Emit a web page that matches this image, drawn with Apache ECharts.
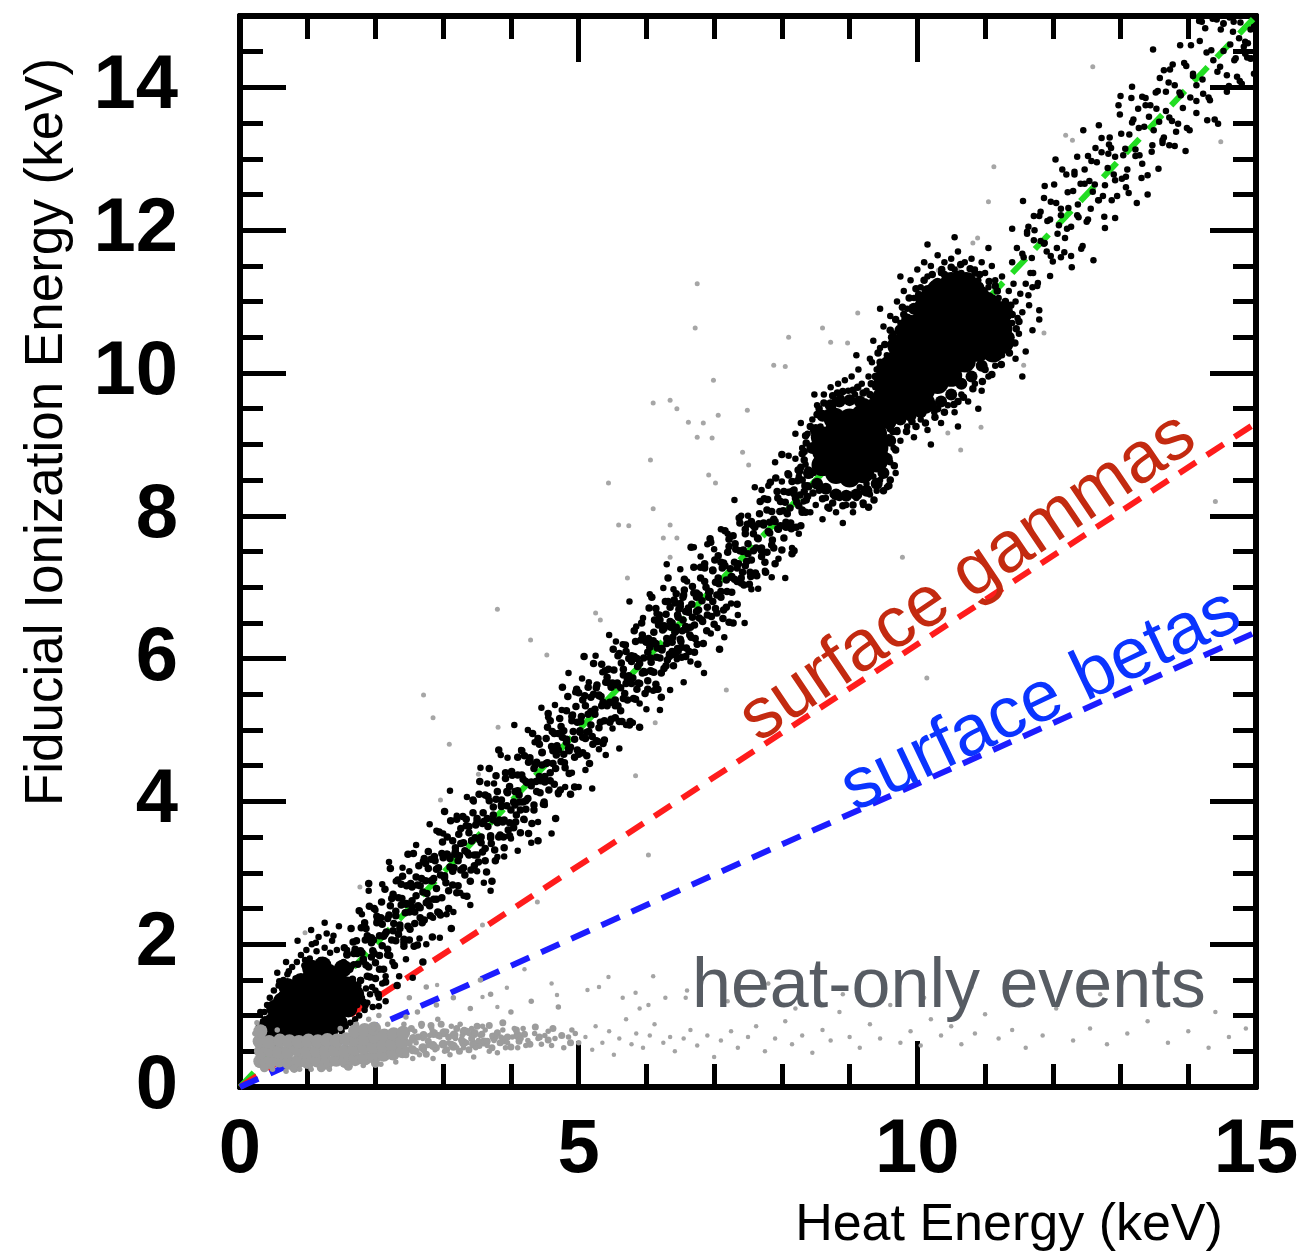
<!DOCTYPE html>
<html>
<head>
<meta charset="utf-8">
<script src="https://cdn.jsdelivr.net/npm/echarts@6/dist/echarts.min.js"></script>
<style>
html,body{margin:0;padding:0;background:#fff;}
#chart{width:1315px;height:1258px;}
</style>
</head>
<body>
<div id="chart"></div>
<script>
// ---------- reference lines (keV) ----------
const unityLine = [[0, 0], [15, 15]];
const gammaLine = [[0, 0], [15, 9.3]];
const betaLine  = [[0, 0], [15, 6.37]];

// ---------- low-energy peak (~1.2 keV) ----------
const lowPeakCore = [[0.48,0.75],[0.49,0.92],[0.62,0.76],[0.61,0.92],[0.63,1.08],[0.62,1.20],[0.76,0.75],[0.77,0.90],[0.75,1.05],[0.76,1.20],[0.78,1.31],[0.90,0.74],[0.91,0.90],[0.89,1.05],[0.90,1.20],[0.92,1.35],[0.90,1.47],[1.04,0.76],[1.05,0.92],[1.03,1.08],[1.04,1.23],[1.06,1.38],[1.04,1.52],[1.18,0.78],[1.17,0.94],[1.19,1.10],[1.18,1.26],[1.16,1.42],[1.18,1.58],[1.32,0.80],[1.33,0.96],[1.31,1.12],[1.32,1.28],[1.34,1.44],[1.31,1.60],[1.46,0.90],[1.45,1.06],[1.47,1.22],[1.46,1.38],[1.44,1.54],[1.60,1.10],[1.61,1.26],[1.59,1.42],[0.40,0.85],[1.22,1.70],[1.52,1.66],[1.70,1.30],[0.36,0.80],[0.52,1.10],[0.70,1.40],[1.05,1.66]];
const lowPeakHalo = [[0.33,0.70],[0.34,0.92],[0.36,1.05],[0.38,0.78],[0.40,1.15],[0.42,0.62],[0.44,1.25],[0.47,0.90],[0.50,1.35],[0.52,0.60],[0.54,1.20],[0.57,1.42],[0.60,0.65],[0.62,1.30],[0.64,1.50],[0.67,0.95],[0.70,1.58],[0.72,0.60],[0.74,1.40],[0.77,1.68],[0.80,0.62],[0.82,1.52],[0.84,1.75],[0.87,1.45],[0.90,1.85],[0.92,0.60],[0.95,1.70],[0.98,1.92],[1.00,0.62],[1.03,1.80],[1.06,2.00],[1.08,1.60],[1.10,0.62],[1.13,1.90],[1.16,2.10],[1.19,1.78],[1.22,0.65],[1.25,1.95],[1.28,2.15],[1.30,0.70],[1.33,1.88],[1.36,2.05],[1.40,0.72],[1.43,1.92],[1.46,2.25],[1.50,0.78],[1.53,1.75],[1.56,0.85],[1.60,1.20],[1.63,0.90],[1.66,1.05],[1.70,0.95],[1.73,1.15],[1.76,1.00],[1.80,1.25],[1.84,1.08],[1.88,1.18],[1.92,1.30],[1.96,1.12],[2.00,1.35],[2.05,1.25],[2.10,1.45],[1.25,2.30],[0.55,1.60],[0.68,1.75],[0.30,1.05],[0.28,0.85],[1.05,2.20],[0.85,2.05],[2.15,1.20],[0.58,1.48],[0.72,1.62],[0.96,1.78],[1.12,2.02],[1.38,2.12],[1.58,1.92],[1.68,1.72],[1.78,1.50],[1.86,1.38],[0.45,1.10],[0.37,0.95]];

// ---------- fiducial band, 1.5 - 8.4 keV ----------
const bandLow = [
[1.50,1.62],[1.52,1.17],[1.54,1.95],[1.56,1.48],[1.58,1.85],[1.60,1.08],[1.62,1.65],[1.64,2.22],[1.66,1.45],[1.68,1.87],[1.70,1.26],[1.72,2.05],[1.74,1.72],[1.76,2.47],[1.78,1.49],[1.80,1.88],[1.82,1.19],[1.84,2.30],[1.86,1.71],[1.88,2.12],[1.90,2.85],[1.92,1.54],[1.94,2.09],[1.96,1.91],[1.98,2.50],[2.00,1.74],[2.02,2.39],[2.04,1.30],[2.06,2.12],[2.08,2.37],[2.10,1.98],[2.12,1.65],[2.14,2.77],[2.16,2.17],[2.18,1.85],[2.20,2.41],[2.22,3.06],[2.24,2.06],[2.26,2.70],[2.28,1.70],[2.30,2.40],[2.32,1.42],[2.34,2.65],[2.36,2.27],[2.38,2.55],[2.40,2.95],[2.42,2.02],[2.44,2.44],[2.46,2.82],[2.48,2.25],
[2.50,2.06],[2.52,2.85],[2.54,2.52],[2.56,3.27],[2.58,2.29],[2.60,2.68],[2.62,1.99],[2.64,3.10],[2.66,2.51],[2.68,2.92],[2.70,1.75],[2.72,2.34],[2.74,2.89],[2.76,2.71],[2.78,3.30],[2.80,2.54],[2.82,3.19],[2.84,2.10],[2.86,2.92],[2.88,3.17],[2.90,2.78],[2.92,2.45],[2.94,3.57],[2.96,2.97],[2.98,2.65],[3.00,3.21],[3.02,3.86],[3.04,2.86],[3.06,3.50],[3.08,2.50],[3.10,3.20],[3.12,2.22],[3.14,3.45],[3.16,3.07],[3.18,3.35],[3.20,3.75],[3.22,2.82],[3.24,3.24],[3.26,3.62],[3.28,3.05],[3.30,3.42],[3.32,2.97],[3.34,3.75],[3.36,3.28],[3.38,3.65],[3.40,2.88],[3.42,3.45],[3.44,4.02],[3.46,3.25],[3.48,3.67],
[3.50,3.76],[3.52,3.15],[3.54,4.28],[3.56,3.50],[3.58,3.29],[3.60,3.72],[3.62,4.09],[3.64,3.01],[3.66,3.65],[3.68,4.01],[3.70,3.49],[3.72,2.88],[3.74,3.92],[3.76,3.32],[3.78,4.36],[3.80,3.70],[3.82,4.72],[3.84,3.53],[3.86,3.95],[3.88,3.71],[3.90,3.35],[3.92,4.32],[3.94,3.94],[3.96,3.60],[3.98,4.21],[4.00,3.88],[4.02,4.37],[4.04,3.63],[4.06,4.14],[4.08,3.81],[4.10,4.62],[4.12,4.09],[4.14,3.56],[4.16,4.37],[4.18,3.99],[4.20,4.64],[4.22,3.89],[4.24,4.26],[4.26,3.55],[4.28,4.57],[4.30,4.22],[4.32,4.95],[4.34,3.88],[4.36,4.51],[4.38,4.14],[4.40,3.45],[4.42,4.80],[4.44,4.29],[4.46,4.51],[4.48,3.96],
[4.50,4.27],[4.52,4.88],[4.54,4.54],[4.56,4.16],[4.58,5.13],[4.60,4.77],[4.62,4.53],[4.64,4.95],[4.66,3.76],[4.68,4.78],[4.70,4.12],[4.72,5.16],[4.74,4.56],[4.76,5.60],[4.78,4.99],[4.80,4.47],[4.82,4.83],[4.84,5.47],[4.86,4.39],[4.88,4.76],[4.90,5.19],[4.92,4.98],[4.94,4.20],[4.96,5.33],[4.98,4.72],[5.00,5.52],[5.02,4.97],[5.04,5.19],[5.06,4.68],[5.08,6.03],[5.10,5.34],[5.12,4.97],[5.14,5.60],[5.16,4.53],[5.18,5.26],[5.20,4.91],[5.22,5.93],[5.24,5.22],[5.26,5.59],[5.28,4.84],[5.30,5.49],[5.32,5.11],[5.34,5.92],[5.36,5.39],[5.38,4.86],[5.40,5.67],[5.42,5.34],[5.44,5.85],[5.46,5.11],[5.48,5.60],
[5.50,5.39],[5.52,5.84],[5.54,5.17],[5.56,5.63],[5.58,5.34],[5.60,6.07],[5.62,5.59],[5.64,5.12],[5.66,5.85],[5.68,5.51],[5.70,6.10],[5.72,5.42],[5.74,5.76],[5.76,5.12],[5.78,6.04],[5.80,5.73],[5.82,6.39],[5.84,5.43],[5.86,6.00],[5.88,5.66],[5.90,5.04],[5.92,6.26],[5.94,5.80],[5.96,6.01],[5.98,5.51],[6.00,6.23],[6.02,5.69],[6.04,6.71],[6.06,6.01],[6.08,5.82],[6.10,6.21],[6.12,6.54],[6.14,5.57],[6.16,6.15],[6.18,6.48],[6.20,6.01],[6.22,5.46],[6.24,6.40],[6.26,5.86],[6.28,6.80],[6.30,6.21],[6.32,7.13],[6.34,6.06],[6.36,6.44],[6.38,6.23],[6.40,5.90],[6.42,6.78],[6.44,6.44],[6.46,6.14],[6.48,6.69],
[6.03,6.28],[6.07,5.95],[6.11,6.37],[6.15,6.02],[6.19,6.61],[6.23,6.12],[6.27,6.45],[6.31,5.98],[6.35,6.72],[6.39,6.30],[6.43,6.05],[6.47,6.58],[6.51,6.24],[6.55,6.89],[6.59,6.41],[6.63,6.10],[6.67,6.76],[6.71,6.47],[6.75,6.20],[6.14,6.70],[6.29,6.62],[6.44,6.91],[6.58,6.66],[6.22,5.80],[6.52,6.02],
[6.50,6.73],[6.52,6.16],[6.54,6.54],[6.56,6.96],[6.58,6.03],[6.60,6.43],[6.62,6.71],[6.64,6.33],[6.66,7.56],[6.68,6.58],[6.70,7.28],[6.72,6.28],[6.74,6.92],[6.76,5.92],[6.78,6.57],[6.80,7.13],[6.82,6.81],[6.84,6.21],[6.86,7.33],[6.88,7.00],[6.90,6.61],[6.92,6.86],[6.94,7.68],[6.96,6.59],[6.98,7.24],[7.00,6.48],[7.02,7.07],[7.04,6.89],[7.06,7.44],[7.08,6.13],[7.10,6.86],[7.12,7.27],[7.14,6.68],[7.16,7.79],[7.18,7.10],[7.20,7.49],[7.22,6.51],[7.24,7.26],[7.26,6.93],[7.28,7.72],[7.30,7.11],[7.32,7.53],[7.34,6.76],[7.36,7.33],[7.38,7.90],[7.40,7.13],[7.42,7.50],[7.44,7.03],[7.46,7.81],[7.48,7.36],
[7.50,7.61],[7.53,7.21],[7.55,7.92],[7.58,7.51],[7.60,7.84],[7.63,7.16],[7.65,7.68],[7.68,8.20],[7.70,7.51],[7.73,7.90],[7.75,7.35],[7.78,8.08],[7.80,7.78],[7.83,8.47],[7.85,7.59],[7.88,7.95],[7.90,7.33],[7.93,8.34],[7.95,7.81],[7.98,8.20],[8.00,8.86],[8.03,7.69],[8.05,8.19],[8.08,8.03],[8.10,8.57],[8.13,7.90],[8.15,8.48],[8.18,7.51],[8.20,8.25],[8.23,8.49],[8.25,8.14],[8.28,7.86],[8.30,8.87],[8.33,8.34],[8.35,8.05],[8.38,8.57]
];
const bandMid = [
[1.55,1.38],[1.58,1.86],[1.61,1.20],[1.64,1.69],[1.67,2.03],[1.70,1.43],[1.73,1.87],[1.76,1.21],[1.79,2.23],[1.82,1.76],[1.85,2.06],[1.88,1.55],[1.91,2.53],[1.94,1.82],[1.97,2.06],[2.00,1.52],[2.03,2.34],[2.06,1.84],[2.09,2.59],[2.12,2.11],[2.15,1.47],[2.18,2.36],[2.21,1.84],[2.24,2.64],[2.27,2.29],[2.30,2.05],[2.33,2.90],[2.36,2.22],[2.39,2.64],[2.42,1.97],[2.45,2.56],[2.48,3.26],[2.51,2.21],[2.54,2.61],[2.57,1.97],[2.60,2.94],[2.63,2.54],[2.66,2.82],[2.69,2.30],[2.72,3.20],
[2.75,2.58],[2.78,3.06],[2.81,2.40],[2.84,2.89],[2.87,3.23],[2.90,2.63],[2.93,3.07],[2.96,2.41],[2.99,3.43],[3.02,2.96],[3.05,3.26],[3.08,2.75],[3.11,3.73],[3.14,3.02],[3.17,3.26],[3.20,2.72],[3.23,3.54],[3.26,3.04],[3.29,3.79],[3.32,3.31],[3.35,2.67],[3.38,3.56],[3.41,3.04],[3.44,3.84],[3.47,3.49],[3.50,3.25],[3.53,4.10],[3.56,3.42],[3.59,3.84],[3.62,3.17],[3.65,3.76],[3.68,4.46],[3.71,3.41],[3.74,3.81],[3.77,3.17],[3.80,4.14],[3.83,3.74],[3.86,4.02],[3.89,3.50],[3.92,4.40],
[3.95,4.12],[3.98,3.70],[4.01,4.42],[4.04,3.99],[4.07,3.71],[4.10,4.37],[4.13,3.99],[4.16,4.71],[4.19,3.75],[4.22,4.28],[4.25,4.04],[4.28,4.61],[4.31,3.69],[4.34,4.46],[4.37,4.28],[4.40,4.88],[4.43,4.12],[4.46,4.68],[4.49,3.99],[4.52,4.53],[4.55,5.23],[4.58,4.40],[4.61,4.98],[4.64,4.24],[4.67,4.65],[4.70,4.95],[4.73,4.16],[4.76,4.90],[4.79,4.54],[4.82,5.27],[4.85,4.74],[4.88,4.10],[4.91,5.21],[4.94,4.87],[4.97,5.57],[5.00,4.66],[5.03,5.12],[5.06,4.90],[5.09,5.48],[5.12,4.64],
[5.15,4.98],[5.18,5.46],[5.21,4.80],[5.24,5.29],[5.27,5.63],[5.30,5.03],[5.33,5.47],[5.36,4.81],[5.39,5.83],[5.42,5.36],[5.45,5.66],[5.48,5.15],[5.51,6.13],[5.54,5.42],[5.57,5.66],[5.60,5.12],[5.63,5.94],[5.66,5.44],[5.69,6.19],[5.72,5.71],[5.75,5.07],[5.78,5.96],[5.81,5.44],[5.84,6.24],[5.87,5.89],[5.90,5.65],[5.93,6.50],[5.96,5.82],[5.99,6.24],[6.02,5.57],[6.05,6.16],[6.08,6.86],[6.11,5.81],[6.14,6.21],[6.17,5.57],[6.20,6.54],[6.23,6.14],[6.26,6.42],[6.29,5.90],[6.32,6.80],
[6.35,6.52],[6.38,6.10],[6.41,6.82],[6.44,6.39],[6.47,6.11],[6.50,6.77],[6.53,6.39],[6.56,7.11],[6.59,6.15],[6.62,6.68],[6.65,6.44],[6.68,7.01],[6.71,6.09],[6.74,6.86],[6.77,6.68],[6.80,7.28],[6.83,6.52],[6.86,7.08],[6.89,6.39],[6.92,6.93],[6.95,7.63],[6.98,6.80],[7.01,7.38],[7.04,6.64],[7.07,7.05],[7.10,7.35],[7.13,6.56],[7.16,7.30],[7.19,6.94],[7.22,7.67],[7.25,7.14],[7.28,6.50],[7.31,7.61],[7.34,7.27],[7.37,7.97],[7.40,7.06],[7.43,7.52],[7.46,7.30],[7.49,7.88],[7.52,7.04],
[7.55,7.38],[7.58,7.86],[7.61,7.20],[7.64,7.69],[7.67,8.03],[7.70,7.43],[7.73,7.87],[7.76,7.21],[7.79,8.23],[7.82,7.76],[7.85,8.06],[7.88,7.55],[7.91,8.53],[7.94,7.82],[7.97,8.06],[8.00,7.52],[8.03,8.34],[8.06,7.84],[8.09,8.59],[8.12,8.11],[8.15,7.47],[8.18,8.36],[8.21,7.84],[8.24,8.64],[8.27,8.29],[8.30,8.05],[8.33,8.90],[8.36,8.22],[8.39,8.64]
];
const bandCore = [
[1.62,1.67],[1.66,1.51],[1.70,1.93],[1.74,1.42],[1.78,1.91],[1.82,1.79],[1.86,2.22],[1.90,1.68],[1.94,2.02],[1.98,1.87],[2.02,2.30],[2.06,1.65],[2.10,2.28],[2.14,2.14],[2.18,1.93],[2.22,2.54],[2.26,2.19],[2.30,2.46],[2.34,2.14],[2.38,2.84],[2.42,2.07],[2.46,2.57],[2.50,2.45],[2.54,2.80],[2.58,2.45],[2.62,2.83],[2.66,2.37],[2.70,2.73],[2.74,3.13],[2.78,2.61],[2.82,2.89],[2.86,2.63],[2.90,3.05],[2.94,2.44],[2.98,3.27],[3.02,2.93],[3.06,3.26],[3.10,3.08],[3.14,2.83],[3.18,3.30],
[3.22,3.17],[3.26,3.41],[3.30,3.07],[3.34,3.66],[3.38,3.25],[3.42,3.45],[3.46,3.10],[3.50,3.72],[3.54,3.46],[3.58,3.69],[3.62,3.34],[3.66,4.07],[3.70,3.52],[3.74,3.74],[3.78,4.03],[3.82,3.50],[3.86,3.93],[3.90,3.74],[3.94,4.14],[3.98,3.52],[4.02,4.37],[4.06,3.95],[4.10,4.15],[4.14,3.88],[4.18,4.31],[4.22,4.01],[4.26,4.55],[4.30,4.27],[4.34,3.95],[4.38,4.55],[4.42,4.35],[4.46,4.69],[4.50,4.35],[4.54,5.04],[4.58,4.29],[4.62,4.71],[4.66,4.46],[4.70,4.72],[4.74,5.05],[4.78,4.66],
[4.82,4.87],[4.86,4.71],[4.90,5.13],[4.94,4.62],[4.98,5.11],[5.02,4.99],[5.06,5.42],[5.10,4.88],[5.14,5.22],[5.18,5.07],[5.22,5.50],[5.26,4.85],[5.30,5.48],[5.34,5.34],[5.38,5.13],[5.42,5.74],[5.46,5.39],[5.50,5.66],[5.54,5.34],[5.58,6.04],[5.62,5.27],[5.66,5.77],[5.70,5.65],[5.74,6.00],[5.78,5.65],[5.82,6.03],[5.86,5.57],[5.90,5.93],[5.94,6.33],[5.98,5.81],[6.02,6.09],[6.06,5.83],[6.10,6.25],[6.14,5.64],[6.18,6.47],[6.22,6.13],[6.26,6.46],[6.30,6.28],[6.34,6.03],[6.38,6.50],
[6.42,6.37],[6.46,6.61],[6.50,6.27],[6.54,6.86],[6.58,6.45],[6.62,6.65],[6.66,6.30],[6.70,6.92],[6.74,6.66],[6.78,6.89],[6.82,6.54],[6.86,7.27],[6.90,6.72],[6.94,6.94],[6.98,7.23],[7.02,6.70],[7.06,7.13],[7.10,6.94],[7.14,7.34],[7.18,6.72],[7.22,7.57],[7.26,7.15],[7.30,7.35],[7.34,7.08],[7.38,7.51],[7.42,7.21],[7.46,7.75],[7.50,7.47],[7.54,7.15],[7.58,7.75],[7.62,7.55],[7.66,7.89],[7.70,7.55],[7.74,8.24],[7.78,7.49],[7.82,7.91],[7.86,7.66],[7.90,7.92],[7.94,8.25],[7.98,7.86],
[8.02,8.07],[8.06,7.91],[8.10,8.33],[8.14,7.82],[8.18,8.31],[8.22,8.19],[8.26,8.62],[8.30,8.08],[8.34,8.42],[8.38,8.27]
];
const bandWide = [[1.80,2.42],[1.85,1.14],[1.90,2.75],[1.95,1.40],[2.00,2.48],[2.05,1.13],[2.10,2.84],[2.15,1.55],[2.20,3.15],[2.25,1.75],[2.30,2.88],[2.35,1.55],[2.40,3.07],[2.45,1.79],[2.50,3.02],[2.55,1.53],[2.60,3.39],[2.65,2.08],[2.70,3.16],[2.75,2.00],[2.80,3.68],[2.85,2.37],[2.90,3.59],[2.95,2.09],[3.00,3.55],[3.05,2.42],[3.10,4.15],[3.15,2.45],[3.20,3.80],[3.25,2.72],
[3.30,2.68],[3.35,4.06],[3.40,2.55],[3.45,4.00],[3.50,3.02],[3.55,4.47],[3.60,2.86],[3.65,4.25],[3.70,2.75],[3.75,4.25],[3.80,3.22],[3.85,4.65],[3.90,3.23],[3.95,4.61],[4.00,3.48],[4.05,5.07],[4.10,3.31],[4.15,4.72],[4.20,3.74],[4.25,5.00],[4.30,3.42],[4.35,4.83],[4.40,3.71],[4.45,5.31],[4.50,3.95],[4.55,5.18],[4.60,3.55],[4.65,5.35],[4.70,4.10],[4.75,5.28],
[4.80,4.20],[4.85,5.80],[4.90,4.40],[4.95,5.53],[5.00,4.20],[5.05,5.72],[5.10,4.44],[5.15,5.67],[5.20,4.18],[5.25,6.04],[5.30,4.73],[5.35,5.81],[5.40,4.65],[5.45,6.33],[5.50,5.02],[5.55,6.24],[5.60,4.74],[5.65,6.20],[5.70,5.07],[5.75,6.80],[5.80,5.10],[5.85,6.45],[5.90,5.37],[5.95,6.57],[6.00,5.29],[6.05,6.90],[6.10,5.55],[6.15,6.63],[6.20,5.28],[6.25,6.99],
[6.30,7.32],[6.35,5.56],[6.40,6.97],[6.45,5.99],[6.50,7.25],[6.55,5.67],[6.60,7.08],[6.65,5.96],[6.70,7.56],[6.75,6.20],[6.80,7.43],[6.85,5.80],[6.90,7.60],[6.95,6.35],[7.00,7.53],[7.05,6.43],[7.10,7.81],[7.15,6.30],[7.20,7.75],[7.25,6.77],[7.30,8.22],[7.35,6.61],[7.40,8.00],[7.45,6.50],[7.50,8.00],[7.55,6.97],[7.60,8.40],[7.65,6.98],[7.70,8.36],[7.75,7.23],
[7.80,8.42],[7.85,7.14],[7.90,8.75],[7.95,7.40],[8.00,8.48],[8.05,7.13],[8.10,8.84],[8.15,7.55],[8.20,9.15],[8.25,7.75]];

// ---------- 8.98 keV peak ----------
const peak9Core = [[8.60,8.71],[8.61,8.90],[8.59,9.10],[8.80,8.60],[8.79,8.80],[8.81,9.00],[8.80,9.20],[8.78,9.36],[9.00,8.55],[9.01,8.75],[8.99,8.95],[9.02,9.15],[9.00,9.35],[9.20,8.61],[9.19,8.80],[9.21,9.00],[9.20,9.20],[9.18,9.40],[9.40,8.76],[9.41,8.95],[9.39,9.15],[9.40,9.35],[9.45,9.55],[9.60,9.45]];
const peak9Edge = [[8.40,8.60],[8.45,8.95],[8.50,9.20],[8.60,9.40],[8.72,9.55],[8.85,9.60],[9.00,9.62],[9.15,9.60],[9.30,9.55],[9.45,9.45],[9.55,9.30],[9.60,9.05],[9.55,8.80],[9.50,8.60],[9.40,8.45],[9.25,8.35],[9.10,8.30],[8.95,8.28],[8.80,8.30],[8.65,8.38],[8.52,8.45]];
const peak9Ring = [[8.30,8.50],[8.33,8.78],[8.36,9.02],[8.42,9.25],[8.52,9.42],[8.62,9.58],[8.75,9.68],[8.90,9.74],[9.05,9.76],[9.20,9.72],[9.35,9.66],[9.50,9.62],[9.64,9.18],[9.68,8.92],[9.66,8.70],[9.60,8.50],[9.50,8.35],[9.36,8.22],[9.20,8.18],[9.05,8.15],[8.90,8.14],[8.75,8.18],[8.60,8.24],[8.46,8.32],[8.38,8.42],[8.28,8.68],[8.35,9.12],[8.55,9.50],[8.82,9.72],[9.12,9.80],[9.58,8.42],[9.28,8.12],[8.68,8.12]];
const peak9Halo = [[8.25,8.55],[8.30,8.95],[8.32,8.20],[8.35,8.72],[8.38,9.15],[8.40,8.40],[8.42,8.05],[8.45,9.35],[8.47,8.60],[8.50,8.15],[8.52,9.55],[8.55,8.35],[8.57,9.25],[8.60,7.95],[8.62,9.70],[8.65,8.25],[8.68,9.45],[8.70,8.10],[8.72,9.80],[8.75,8.30],[8.78,9.60],[8.80,8.05],[8.83,9.85],[8.85,8.25],[8.88,9.65],[8.90,7.90],[8.93,9.90],[8.95,8.15],[8.98,9.75],[9.00,8.30],[9.03,9.95],[9.05,8.05],[9.08,9.70],[9.10,8.25],[9.13,10.05],[9.15,8.40],[9.18,9.85],[9.20,8.15],[9.23,9.60],[9.25,8.45],[9.28,9.95],[9.30,8.30],[9.33,10.15],[9.35,8.55],[9.38,9.80],[9.40,8.35],[9.43,8.70],[9.45,8.50],[9.48,9.05],[9.50,8.60],[9.53,8.85],[9.55,8.40],[9.58,9.10],[9.60,8.75],[9.62,9.35],[9.65,8.95],[9.68,8.60],[9.70,9.20],[8.20,8.80],[8.15,8.35],[8.48,9.70],[8.28,9.30]];

// ---------- 10.37 keV peak ----------
const peak10Core = [[9.50,9.66],[9.52,9.86],[9.70,9.62],[9.71,9.81],[9.69,10.01],[9.72,10.20],[9.90,9.71],[9.89,9.92],[9.91,10.10],[9.90,10.31],[9.92,10.50],[10.10,9.76],[10.11,9.95],[10.09,10.16],[10.12,10.36],[10.10,10.55],[10.08,10.74],[10.30,9.86],[10.29,10.05],[10.31,10.26],[10.30,10.45],[10.32,10.66],[10.29,10.85],[10.31,11.00],[10.50,9.96],[10.51,10.15],[10.49,10.36],[10.52,10.55],[10.50,10.76],[10.48,10.95],[10.51,11.10],[10.70,10.16],[10.71,10.35],[10.69,10.56],[10.72,10.75],[10.70,10.95],[10.68,11.10],[10.90,10.31],[10.91,10.50],[10.89,10.71],[10.92,10.90],[11.10,10.50],[11.08,10.71],[9.35,9.45],[11.25,10.85],[11.24,10.62],[10.50,11.26],[10.72,11.26],[10.30,11.16],[9.55,10.05],[9.72,10.38],[11.08,10.95],[10.90,11.08],[11.12,10.30],[9.60,9.46],[9.85,9.52],[10.10,9.58],[11.26,10.42],[10.12,10.93],[9.92,10.66]];
const peak10Edge = [[9.35,9.55],[9.45,9.90],[9.55,10.15],[9.65,10.40],[9.75,10.60],[9.85,10.75],[9.95,10.90],[10.05,11.05],[10.15,11.15],[10.30,11.25],[10.45,11.30],[10.60,11.35],[10.75,11.30],[10.90,11.20],[11.05,11.05],[11.20,10.90],[11.30,10.70],[11.35,10.50],[11.25,10.40],[11.10,10.25],[10.95,10.10],[10.80,9.95],[10.65,9.85],[10.50,9.70],[10.35,9.60],[10.20,9.55],[10.05,9.45],[9.90,9.40],[9.75,9.35],[9.60,9.30],[9.50,9.45]];
const peak10Ring = [[9.25,9.45],[9.30,9.70],[9.38,9.95],[9.45,10.15],[9.52,10.40],[9.60,10.60],[9.68,10.75],[9.78,10.92],[9.88,11.05],[9.98,11.18],[10.10,11.30],[10.22,11.38],[10.36,11.45],[10.50,11.48],[10.64,11.52],[10.78,11.46],[10.92,11.38],[11.06,11.28],[11.18,11.15],[11.30,11.00],[11.40,10.82],[11.46,10.62],[11.44,10.42],[11.36,10.28],[11.24,10.12],[11.10,9.98],[10.96,9.88],[10.82,9.78],[10.68,9.66],[10.54,9.56],[10.40,9.45],[10.26,9.38],[10.12,9.30],[9.98,9.25],[9.84,9.18],[9.70,9.18],[9.40,9.25],[9.32,9.85],[9.42,10.28],[9.62,10.50],[9.80,10.82],[10.02,11.10],[10.40,11.38],[10.85,11.40],[11.15,11.22],[11.38,10.95],[11.50,10.72],[11.30,10.35],[11.00,10.05],[10.60,9.60],[10.30,9.50],[9.92,9.32],[9.60,9.22]];
const peak10Halo = [[9.20,9.30],[9.25,9.75],[9.30,10.20],[9.35,10.45],[9.40,10.05],[9.45,10.35],[9.50,10.65],[9.55,10.25],[9.60,10.80],[9.65,10.55],[9.70,11.00],[9.75,10.70],[9.80,11.15],[9.85,10.90],[9.90,11.30],[9.95,11.05],[10.00,11.45],[10.05,11.20],[10.10,11.55],[10.15,11.35],[10.20,11.50],[10.25,11.25],[10.30,11.65],[10.35,11.40],[10.40,11.55],[10.45,11.30],[10.50,11.60],[10.55,11.45],[10.60,11.70],[10.65,11.40],[10.70,11.55],[10.75,11.35],[10.80,11.60],[10.85,11.45],[10.90,11.30],[10.95,11.55],[11.00,11.40],[11.05,11.20],[11.10,11.50],[11.15,11.30],[11.20,11.05],[11.25,11.35],[11.30,10.90],[11.35,11.15],[11.40,10.70],[11.45,11.00],[11.50,10.55],[11.55,10.85],[11.35,10.40],[11.25,10.25],[11.15,10.10],[11.05,9.95],[10.95,9.75],[10.85,9.85],[10.75,9.60],[10.65,9.70],[10.55,9.45],[10.45,9.55],[10.35,9.30],[10.25,9.45],[10.15,9.20],[10.05,9.35],[9.95,9.10],[9.85,9.25],[9.75,9.05],[9.65,9.45],[9.58,9.60],[9.52,9.40],[11.60,10.30],[11.65,10.95],[11.45,10.20],[11.70,10.60],[10.90,9.50],[10.60,9.25],[10.20,9.00],[11.55,9.95],[9.15,9.55],[9.10,10.25],[9.45,10.90],[9.75,11.35],[10.15,11.80],[10.55,11.90],[11.05,11.75],[11.40,11.55],[11.70,11.20],[11.80,10.75]];

// ---------- fiducial band, 11.4 - 15 keV ----------
const bandHigh = [[11.55,11.67],[11.60,11.25],[11.64,12.05],[11.69,11.61],[11.73,12.00],[11.78,11.26],[11.82,11.85],[11.87,12.45],[11.91,11.70],[11.96,12.15],[12.00,11.56],[12.05,12.38],[12.09,12.07],[12.14,12.85],[12.18,11.89],[12.23,12.31],[12.27,11.64],[12.32,12.78],[12.36,12.21],[12.41,12.65],[12.45,13.40],[12.50,12.12],[12.54,12.69],[12.59,12.54],[12.63,13.15],[12.68,12.42],[12.72,13.09],[12.77,12.03],[12.81,12.87],[12.86,13.15],[12.90,12.78],[12.95,12.48],[12.99,13.62],[13.04,13.05],[13.08,12.75],[13.13,13.34],[13.17,14.01],[13.22,13.04],[13.26,13.70],[13.31,12.73],[13.35,13.45],[13.40,12.50],[13.44,13.75],[13.49,13.40],[13.53,13.70],[13.58,14.13],[13.62,13.22],[13.67,13.67],[13.71,14.07],[13.76,13.53],
[13.80,14.03],[13.85,13.49],[13.89,13.89],[13.94,14.34],[13.98,13.43],[14.03,13.86],[14.07,14.16],[14.12,13.81],[14.16,14.93],[14.21,14.11],[14.25,14.83],[14.30,13.86],[14.34,14.52],[14.39,13.55],[14.43,14.22],[14.48,14.81],[14.52,14.51],[14.57,13.94],[14.61,14.98],[14.66,14.78],[14.70,14.41],[14.75,14.69],[14.79,14.05],[14.84,14.47],[14.88,14.62],[14.93,14.41],[14.97,14.85],
[11.62,11.95],[11.71,11.40],[11.80,12.20],[11.88,11.82],[11.97,12.40],[12.06,11.75],[12.12,12.30],[12.21,12.02],[12.30,12.55],[12.38,12.18],[12.47,12.85],[12.56,12.30],[12.65,12.95],[12.74,12.48],[12.83,13.20],[12.92,12.70],[13.01,13.35],[13.10,12.85],[13.19,13.55],[13.28,13.05],[13.37,13.75],[13.46,13.10],[13.55,13.95],[13.64,13.30],[13.73,14.25],
[11.42,11.25],[11.47,11.75],[11.52,11.11],[11.57,11.62],[11.62,11.98],[11.67,11.40],[11.72,11.86],[11.77,11.22],[11.82,12.26],[11.87,11.81],[11.92,12.13],[11.97,11.64],[12.02,12.64],[12.07,11.95],[12.12,12.21],[12.17,11.69],[12.22,12.53],[12.27,12.05],[12.32,12.82],[12.37,12.36],[12.42,11.74],[12.47,12.65],[12.52,12.15],[12.57,12.97],[12.62,12.64],[12.67,12.42],[12.72,13.29],[12.77,12.63],[12.82,13.07],[12.87,12.42],[12.92,13.03],[12.97,13.75],[13.02,12.72],[13.07,13.14],[13.12,12.52],[13.17,13.51],[13.22,13.13],[13.27,13.43],[13.32,12.93],[13.37,13.85],
[13.42,13.59],[13.47,13.19],[13.52,13.93],[13.57,13.52],[13.62,13.26],[13.67,13.94],[13.72,13.58],[13.77,14.32],[13.82,13.38],[13.87,13.93],[13.92,13.71],[13.97,14.30],[14.02,13.40],[14.07,14.19],[14.12,14.03],[14.17,14.65],[14.22,13.91],[14.27,14.49],[14.32,13.82],[14.37,14.38],[14.42,14.95],[14.47,14.29],[14.52,14.89],[14.57,14.17],[14.62,14.60],[14.67,14.92],[14.72,14.15],[14.77,14.91],[14.82,14.57],[14.87,14.42],[14.92,14.81],[14.97,14.19],
[11.40,12.02],[11.48,10.77],[11.56,12.41],[11.64,11.09],[11.72,12.20],[11.80,10.88],[11.88,12.62],[11.96,11.36],[12.04,12.99],[12.12,11.62],[12.20,12.78],[12.28,11.48],[12.36,13.03],[12.44,11.78],[12.52,13.04],[12.60,11.58],[12.68,13.47],[12.76,12.19],[12.84,13.30],[12.92,12.17],[13.00,13.88],[13.08,12.60],[13.16,13.85],[13.24,12.38],[13.32,13.87],[13.40,12.77],[13.48,14.53],[13.56,12.86],[13.64,14.24],[13.72,13.19],[13.80,13.18],[13.88,14.59],[13.96,13.11],[14.04,14.59],[14.12,13.64],[14.20,14.92],[14.28,13.54],[14.36,14.96],[14.44,13.49],[14.52,14.90],[14.60,14.02],[14.68,14.38],[14.76,14.09],[14.84,14.64],[14.92,14.40]];

// ---------- heat-only events ----------
const heatOnlyCore = [[0.30,0.36],[0.31,0.50],[0.29,0.64],[0.30,0.78],[0.44,0.35],[0.45,0.51],[0.43,0.63],[0.58,0.37],[0.57,0.49],[0.59,0.65],[0.72,0.34],[0.71,0.50],[0.73,0.64],[0.86,0.36],[0.85,0.52],[0.87,0.63],[1.00,0.35],[0.99,0.49],[1.01,0.65],[1.14,0.37],[1.13,0.51],[1.15,0.64],[1.28,0.34],[1.27,0.50],[1.29,0.66],[1.42,0.38],[1.41,0.52],[1.43,0.65],[1.56,0.36],[1.55,0.50],[1.57,0.67],[1.70,0.39],[1.69,0.53],[1.71,0.66],[1.70,0.78],[1.84,0.40],[1.83,0.55],[1.85,0.68],[1.84,0.80],[1.98,0.42],[1.97,0.56],[1.99,0.70],[1.98,0.82],[2.12,0.45],[2.11,0.58],[2.13,0.72],[2.26,0.47],[2.25,0.60],[2.27,0.74],[2.40,0.50],[2.39,0.63],[2.41,0.76]];
const heatOnlyMid = [[2.55,0.52],[2.56,0.68],[2.70,0.55],[2.71,0.72],[2.85,0.58],[2.86,0.75],[3.00,0.60],[3.01,0.76],[3.15,0.57],[3.16,0.73],[3.30,0.62],[3.31,0.78],[3.45,0.60],[3.46,0.75],[3.60,0.63],[3.75,0.70],[3.90,0.66],[4.10,0.72],[0.36,0.27],[0.80,0.26],[1.20,0.27],[1.60,0.29],[2.00,0.33]];
const heatOnlyPts = [[0.22,0.75],[0.25,0.90],[0.27,0.35],[0.35,0.82],[0.48,0.25],[0.55,0.80],[0.68,0.22],[0.88,0.25],[1.05,0.25],[1.32,0.25],[1.48,0.82],[1.58,0.28],[1.72,0.88],[1.82,0.30],[1.98,0.82],[2.08,0.32],[2.18,0.88],[2.30,0.35],[2.42,0.88],[2.55,0.40],[2.60,0.62],[2.68,0.85],[2.72,0.50],[2.80,0.72],[2.85,0.40],[2.92,0.95],[2.98,0.60],[3.05,0.78],[3.10,0.45],[3.18,0.68],[3.25,0.88],[3.30,0.55],[3.38,0.75],[3.45,0.42],[3.52,0.65],[3.58,0.85],[3.65,0.58],[3.72,0.72],[3.80,0.48],[3.88,0.80],[3.95,0.62],[4.02,0.70],[4.10,0.55],[4.18,0.82],[4.25,0.65],[4.35,0.75],[4.45,0.60],[4.55,0.78],[4.65,0.68],[4.78,0.55],[4.90,0.80],[5.00,0.62],[2.62,1.05],[2.90,1.15],[3.15,1.25],[3.40,1.10],[3.70,1.30],[4.00,1.05],[4.30,1.20],[2.50,1.25],[2.75,1.40],[3.55,1.50],[4.70,1.12],[2.45,0.98],[2.05,1.00],[1.90,0.95],
[2.52,0.55],[2.58,0.78],[2.65,0.45],[2.70,0.68],[2.78,0.58],[2.83,0.82],[2.88,0.52],[2.95,0.70],[3.02,0.50],[3.08,0.62],[3.12,0.85],[3.20,0.55],[3.28,0.72],[3.35,0.62],[3.42,0.82],[3.48,0.55],[3.55,0.72],[3.62,0.80],[3.68,0.50],[3.75,0.65],[3.85,0.70],[3.92,0.55],[4.05,0.82],[4.15,0.68],[4.22,0.58],[4.40,0.68],[4.50,0.72],[4.60,0.58],[4.85,0.70],[4.95,0.75]];
const heatOnlyMore = [[2.45,0.45],[2.50,0.62],[2.53,0.82],[2.60,0.50],[2.63,0.70],[2.68,0.88],[2.75,0.46],[2.78,0.64],[2.82,0.86],[2.90,0.55],[2.93,0.72],[2.97,0.88],[3.05,0.52],[3.08,0.70],[3.12,0.60],[3.20,0.82],[3.24,0.50],[3.27,0.66],[3.35,0.78],[3.38,0.52],[3.42,0.68],[3.50,0.85],[3.53,0.58],[3.57,0.74],[3.65,0.64],[3.68,0.86],[3.72,0.55],[3.80,0.76],[3.84,0.62],[3.88,0.90],[3.95,0.70],[4.00,0.56],[4.08,0.80],[4.12,0.64],[4.20,0.74],[4.28,0.60],[4.36,0.84],[4.42,0.70],[4.55,0.66],[4.62,0.82],[4.75,0.72],[4.88,0.62]];
const heatOnlySparse = [[5.10,0.70],[5.20,0.52],[5.25,0.85],[5.35,0.62],[5.45,0.78],[5.52,0.45],[5.60,0.68],[5.70,0.95],[5.78,0.60],[5.85,0.75],[5.95,0.55],[6.05,0.72],[6.12,0.88],[6.25,0.62],[6.35,0.70],[6.42,0.50],[6.55,0.68],[6.65,0.80],[6.75,0.58],[6.90,0.72],[7.00,0.42],[7.10,0.65],[7.25,0.78],[7.35,0.55],[7.50,0.70],[7.62,0.85],[7.75,0.50],[7.90,0.68],[8.05,0.92],[8.15,0.60],[8.30,0.72],[8.45,0.48],[8.60,0.80],[8.72,0.65],[8.85,1.05],[9.00,0.70],[9.15,0.55],[9.30,0.88],[9.45,0.68],[9.60,1.15],[9.75,0.62],[9.90,0.78],[10.05,0.58],[10.20,0.95],[10.35,0.72],[10.50,0.85],[10.65,0.60],[10.85,0.75],[11.00,1.02],[11.20,0.68],[11.40,0.80],[11.60,0.55],[11.85,0.72],[12.05,1.10],[12.30,0.65],[12.55,0.82],[12.80,0.60],[13.10,0.75],[13.40,0.92],[13.70,0.62],[14.00,0.78],[14.30,0.55],[14.60,0.70],[14.85,0.82],[5.30,1.40],[5.65,1.25],[6.10,1.55],[6.60,1.35],[7.20,1.20],[7.80,1.45],[8.20,1.10],[8.90,1.30],[9.20,1.60],[10.10,1.25],[10.80,1.40],[11.50,1.15],[12.70,1.30],[13.60,1.20],[14.40,1.05],[4.60,1.45],[4.20,1.65],[5.90,1.10],[5.44,1.54],[5.13,1.36],[4.68,1.29],[3.94,1.39],[3.80,1.12],[3.58,1.26],[2.91,1.43],[6.28,1.25],[6.58,1.25],[5.84,1.32],[6.03,1.15]];

// ---------- other (non-fiducial) events ----------
const otherEvents = [[6.72,10.63],[8.10,10.50],[8.60,10.63],[8.72,10.43],[7.88,10.11],[8.05,10.09],[6.99,9.90],[6.10,9.58],[6.35,9.62],[6.45,9.50],[6.62,9.31],[6.84,9.30],[7.06,9.41],[7.49,9.48],[6.75,9.10],[6.97,9.09],[6.06,8.78],[5.44,8.46],[6.92,8.57],[7.02,8.46],[7.42,8.89],[7.51,8.71],[6.10,8.10],[5.59,7.87],[5.74,7.86],[6.35,7.87],[6.25,7.69],[6.45,7.69],[5.72,7.13],[6.35,7.42],[9.78,7.42],[9.12,10.84],[8.97,10.42],[10.94,9.24],[10.64,8.92],[10.45,9.16],[11.57,10.11],[11.87,10.56],[3.80,6.69],[4.29,6.26],[4.53,6.05],[2.71,5.49],[2.85,5.17],[3.81,5.04],[3.09,4.80],[3.52,4.38],[2.96,4.02],[1.77,2.80],[0.96,2.16],[4.39,2.59],[3.58,2.27],[5.84,4.36],[6.03,3.25],[6.13,5.10],[5.25,6.64],[5.32,6.54],[12.59,14.29],[12.19,13.33],[12.29,13.26],[11.13,12.89],[11.05,12.40],[10.89,11.89],[10.82,11.82],[10.12,11.54],[10.31,11.44],[10.60,11.47],[14.48,13.24],[6.75,11.25],[10.14,5.73],[7.18,5.56],[14.40,8.20]];

const chart = echarts.init(document.getElementById('chart'), null, {renderer: 'canvas'});
const FONT = '"Liberation Sans", Arial, Helvetica, sans-serif';

function xAx(pos, interval, len, labels) {
  return {
    type: 'value', min: 0, max: 15, interval: interval, position: pos,
    axisLine: {show: true, onZero: false, lineStyle: {color: '#000', width: 6}},
    axisTick: {show: true, inside: true, length: len, lineStyle: {color: '#000', width: 5}},
    axisLabel: labels ? {show: true, fontSize: 76, fontWeight: 'bold', color: '#000', fontFamily: FONT, margin: 26} : {show: false},
    splitLine: {show: false}
  };
}
function yAx(pos, interval, len, labels) {
  return {
    type: 'value', min: 0, max: 15, interval: interval, position: pos,
    axisLine: {show: true, onZero: false, lineStyle: {color: '#000', width: 6}},
    axisTick: {show: true, inside: true, length: len, lineStyle: {color: '#000', width: 5}},
    axisLabel: labels ? {show: true, fontSize: 76, fontWeight: 'bold', color: '#000', fontFamily: FONT, margin: 62,
      formatter: function (v) { return v > 14.5 ? '' : String(v); }} : {show: false},
    splitLine: {show: false}
  };
}

function dots(name, data, size, color, z) {
  return {name: name, type: 'scatter', data: data, symbol: 'circle', symbolSize: size,
    itemStyle: {color: color, opacity: 1}, z: z, silent: true, animation: false, large: false};
}
function dashLine(name, data, color) {
  return {name: name, type: 'line', data: data, showSymbol: false, symbol: 'none', z: 1,
    lineStyle: {color: color, width: 6, type: [20, 13], cap: 'butt'}, animation: false, silent: true};
}

const option = {
  backgroundColor: '#fff',
  animation: false,
  grid: {left: 240, right: 59, top: 16, bottom: 171, containLabel: false},
  xAxis: [xAx('bottom', 5, 46, true), xAx('bottom', 1, 23, false), xAx('top', 5, 46, false), xAx('top', 1, 23, false)],
  yAxis: [yAx('left', 2, 46, true), yAx('left', 0.5, 23, false), yAx('right', 2, 46, false), yAx('right', 0.5, 23, false)],
  series: [
    dashLine('unity', unityLine, '#22dd22'),
    dashLine('surface gammas', gammaLine, '#ff1c1c'),
    dashLine('surface betas', betaLine, '#1c1cff'),
    dots('other events', otherEvents, 5, '#a6a6a6', 2),
    dots('low peak core', lowPeakCore, 18, '#000', 3),
    dots('low peak', lowPeakHalo, 6.5, '#000', 3),
    dots('band low', bandLow, 7.5, '#000', 3),
    dots('band mid', bandMid, 7.5, '#000', 3),
    dots('band core', bandCore, 7.5, '#000', 3),
    dots('band wide', bandWide, 6.5, '#000', 3),
    dots('peak 9 core', peak9Core, 22, '#000', 3),
    dots('peak 9 edge', peak9Edge, 12, '#000', 3),
    dots('peak 9 ring', peak9Ring, 7.5, '#000', 3),
    dots('peak 9 halo', peak9Halo, 6.5, '#000', 3),
    dots('peak 10 core', peak10Core, 22, '#000', 3),
    dots('peak 10 edge', peak10Edge, 12, '#000', 3),
    dots('peak 10 ring', peak10Ring, 7.5, '#000', 3),
    dots('peak 10 halo', peak10Halo, 6.5, '#000', 3),
    dots('band high', bandHigh, 6.5, '#000', 3),
    dots('heat-only core', heatOnlyCore, 14, '#9c9c9c', 4),
    dots('heat-only mid', heatOnlyMid, 9, '#9c9c9c', 4),
    dots('heat-only more', heatOnlyMore, 7, '#9c9c9c', 4),
    dots('heat-only', heatOnlyPts, 5.5, '#9c9c9c', 4),
    dots('heat-only sparse', heatOnlySparse, 4.5, '#a4a4a4', 4)
  ],
  graphic: [
    {type: 'text', x: 1009, y: 1226, z: 100, style: {text: 'Heat Energy (keV)', font: '52px ' + FONT, fill: '#000', align: 'center', verticalAlign: 'middle'}},
    {type: 'text', x: 47, y: 432, rotation: Math.PI / 2, z: 100, style: {text: 'Fiducial Ionization Energy (keV)', font: '53px ' + FONT, fill: '#000', align: 'center', verticalAlign: 'middle'}},
    {type: 'text', x: 968, y: 578, rotation: 34 * Math.PI / 180, z: 100, style: {text: 'surface gammas', font: '72px ' + FONT, fill: '#c32a10', align: 'center', verticalAlign: 'middle'}},
    {type: 'text', x: 1041, y: 701, rotation: 25.5 * Math.PI / 180, z: 100, style: {text: 'surface betas', font: '72px ' + FONT, fill: '#0a34ff', align: 'center', verticalAlign: 'middle'}},
    {type: 'text', x: 692, y: 988, z: 100, style: {text: 'heat-only events', font: '70px ' + FONT, fill: '#575c63', align: 'left', verticalAlign: 'middle'}}
  ]
};
chart.setOption(option);
</script>
</body>
</html>
